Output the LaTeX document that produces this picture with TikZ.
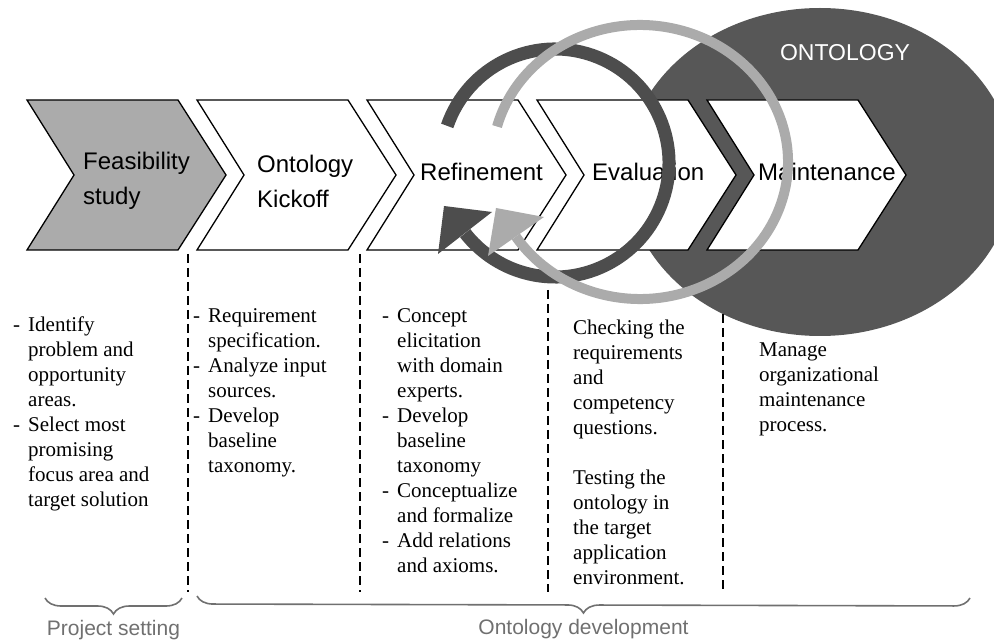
\documentclass[tikz,border=0pt]{standalone}
\usepackage{fontspec}
\setmainfont{Liberation Serif}
\setsansfont{Liberation Sans}
\usetikzlibrary{positioning,decorations.pathreplacing}

\definecolor{ontofill}{HTML}{575757}
\definecolor{feasfill}{HTML}{ABABAB}
\definecolor{ringdark}{HTML}{4D4D4D}
\definecolor{ringlight}{HTML}{ABABAB}
\definecolor{bracegray}{HTML}{707070}

\newcommand{\itemdash}{\makebox[15pt][l]{-}}
\newcommand{\itemgap}{\hspace*{15pt}}

\tikzset{
  chevron/.style={draw=black, line width=1.3pt, line join=miter},
  phase/.style={font=\sffamily\fontsize{24}{35}\selectfont, align=left, inner sep=0pt},
  notes/.style={font=\fontsize{21}{25}\selectfont, align=left, anchor=north west, inner sep=0pt},
  divider/.style={dash pattern=on 9pt off 5pt, line width=2.6pt},
  phasebrace/.style={decorate, decoration={brace, mirror, amplitude=16pt}, line width=1.6pt, draw=bracegray},
  bracelabel/.style={font=\sffamily\fontsize{21}{25}\selectfont, text=bracegray, inner sep=0pt}
}

\begin{document}
\begin{tikzpicture}[x=1pt,y=-1pt]
\useasboundingbox (0,0) rectangle (994,644);

% the ontology disc sits behind everything
\fill[ontofill] (820,172) ellipse[x radius=194, y radius=164];
\node[font=\sffamily\fontsize{23}{23}\selectfont, text=white] (onto) at (845,53) {ONTOLOGY};

% dashed column separators
\foreach \x/\y in {188/254,360/254,548/290,723/314}
  \draw[divider] (\x,\y) -- (\x,592);

% process chevrons
\foreach \i/\f in {0/feasfill,1/white,2/white,3/white,4/white}{
  \pgfmathsetmacro{\lx}{27+170*\i}
  \draw[chevron, fill=\f] (\lx,100) -- ++(151,0) -- ++(48,75) -- ++(-48,75)
    -- ++(-151,0) -- ++(47,-75) -- cycle;
  \coordinate (n\i) at (\lx+47,175);
}

\node[phase, right=9pt of n0, yshift=-6pt] (feas) {Feasibility\\study};
\node[phase, right=13pt of n1, yshift=-6pt] (kick) {Ontology\\Kickoff};
\node[phase, right=6pt of n2, yshift=3pt] (refine) {Refinement};
\node[phase, right=8pt of n3, yshift=3pt] (eval) {Evaluation};
\node[phase, right=4pt of n4, yshift=3pt] (maint) {Maintenance};

% iteration cycles
\draw[ringdark, line width=13pt] (555,163) ++(-161:114)
  arc[start angle=-161, end angle=142, radius=114];
\fill[ringdark] (444,206) -- (492,212) -- (438,254) -- cycle;
\draw[ringlight, line width=10pt] (640,162) ++(-165:148 and 137)
  arc[start angle=-165, end angle=147, x radius=148, y radius=137];
\fill[ringlight] (496,208) -- (544,217) -- (488,256) -- cycle;

% column notes
\node[notes] (setting) at (13,317) {\itemdash Identify\\
  \itemgap problem and\\ \itemgap opportunity\\ \itemgap areas.\\
  \itemdash Select most\\ \itemgap promising\\ \itemgap focus area and\\
  \itemgap target solution};
\node[notes] (kicknotes) at (193,308) {\itemdash Requirement\\
  \itemgap specification.\\ \itemdash Analyze input\\ \itemgap sources.\\
  \itemdash Develop\\ \itemgap baseline\\ \itemgap taxonomy.};
\node[notes] (refnotes) at (382,308) {\itemdash Concept\\
  \itemgap elicitation\\ \itemgap with domain\\ \itemgap experts.\\
  \itemdash Develop\\ \itemgap baseline\\ \itemgap taxonomy\\
  \itemdash Conceptualize\\ \itemgap and formalize\\
  \itemdash Add relations\\ \itemgap and axioms.};
\node[notes] (evalnotes) at (573,320) {Checking the\\ requirements\\ and\\
  competency\\ questions.\\[25pt] Testing the\\ ontology in\\ the target\\
  application\\ environment.};
\node[notes] (maintnotes) at (759,343) {Manage\\ organizational\\
  maintenance\\ process.};

% braces at the bottom
\coordinate (ps-l) at (45,598);
\coordinate (ps-r) at (182,598);
\coordinate (od-l) at (197,596);
\coordinate (od-r) at (970,598);
\draw[phasebrace] (ps-l) -- (ps-r) coordinate[midway] (ps-m);
\draw[phasebrace] (od-l) -- (od-r) coordinate[midway] (od-m);
\node[bracelabel, below=22pt of ps-m] (psetting) {Project setting};
\node[bracelabel, below=22pt of od-m] (odev) {Ontology development};
\end{tikzpicture}
\end{document}
